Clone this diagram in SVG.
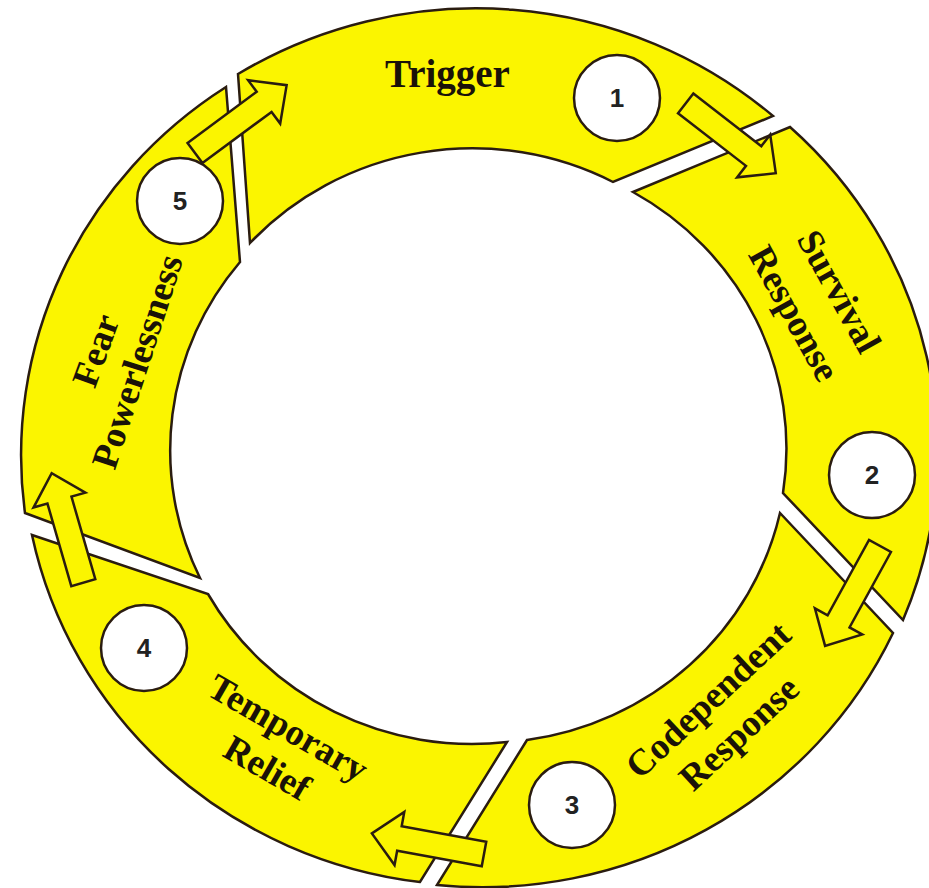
<svg xmlns="http://www.w3.org/2000/svg" width="929" height="888" viewBox="0 0 929 888">
<defs>
<style>
.seg{fill:#FBF500;stroke:#2a1c10;stroke-width:2.5;stroke-linejoin:miter}
.badge{fill:#ffffff;stroke:#2a1c10;stroke-width:2.5}
.num{font-family:"Liberation Sans",Arial,sans-serif;font-weight:bold;font-size:26px;fill:#222222;text-anchor:middle}
.lbl{font-family:"Liberation Serif","Times New Roman",serif;font-weight:bold;font-size:37px;fill:#1a1208;text-anchor:middle}
.arr{fill:#FBF500;stroke:#2a1c10;stroke-width:2.5;stroke-linejoin:miter}
</style>
<path id="blk" d="M0,-12.5 L86,-12.5 L86,-27 L114,0 L86,27 L86,12.5 L0,12.5 Z"/>
</defs>
<rect width="929" height="888" fill="#ffffff"/>

<g id="trigger">
<path class="seg" d="M238,74 A453,440 0 0 1 773,116 L613,182 A303,295 0 0 0 250,243 Z"/>
<text class="lbl" x="447.5" y="87" style="font-size:39px">Trigger</text>
<circle class="badge" cx="617" cy="98" r="43"/>
<text class="num" x="617" y="107">1</text>
</g>

<g id="survival">
<path class="seg" d="M633,192 L790,127 A453,440 0 0 1 903,620 L783,493 A303,295 0 0 0 633,192 Z"/>
<text class="lbl" transform="translate(838,292) rotate(61)" y="11">Survival</text>
<text class="lbl" transform="translate(793,314) rotate(61)" y="11">Response</text>
<circle class="badge" cx="872" cy="475" r="43"/>
<text class="num" x="872" y="484">2</text>
</g>

<g id="codependent">
<path class="seg" d="M780,513 L893,633 A453,440 0 0 1 437,885 L527,740 A303,295 0 0 0 780,513 Z"/>
<text class="lbl" transform="translate(709,701) rotate(-43)" y="11">Codependent</text>
<text class="lbl" transform="translate(740,734) rotate(-43)" y="11">Response</text>
<circle class="badge" cx="572" cy="805" r="43"/>
<text class="num" x="572" y="814">3</text>
</g>

<g id="relief">
<path class="seg" d="M32,535 L208,594 A303,295 0 0 0 507,742 L420,882 A453,440 0 0 1 32,535 Z"/>
<text class="lbl" transform="translate(287.5,729) rotate(30)" y="11">Temporary</text>
<text class="lbl" transform="translate(266.5,769) rotate(30)" y="11">Relief</text>
<circle class="badge" cx="144" cy="648" r="43"/>
<text class="num" x="144" y="657">4</text>
</g>

<g id="fear">
<path class="seg" d="M25,513 L200,578 A303,295 0 0 1 240,262 L226,87 A453,440 0 0 0 25,513 Z"/>
<text class="lbl" transform="translate(97,351) rotate(-70)" y="11">Fear</text>
<text class="lbl" transform="translate(138.5,362) rotate(-72)" y="11">Powerlessness</text>
<circle class="badge" cx="180" cy="201" r="43"/>
<text class="num" x="180" y="210">5</text>
</g>

<g id="connectors">
<use href="#blk" class="arr" transform="translate(685.7,103.3) rotate(37.8)"/>
<use href="#blk" class="arr" transform="translate(880,546) rotate(118.8)"/>
<use href="#blk" class="arr" transform="translate(484,854) rotate(190.4)"/>
<use href="#blk" class="arr" transform="translate(83.3,582.7) rotate(-106.1)"/>
<use href="#blk" class="arr" transform="translate(195,153) rotate(-36.5)"/>
</g>
</svg>
